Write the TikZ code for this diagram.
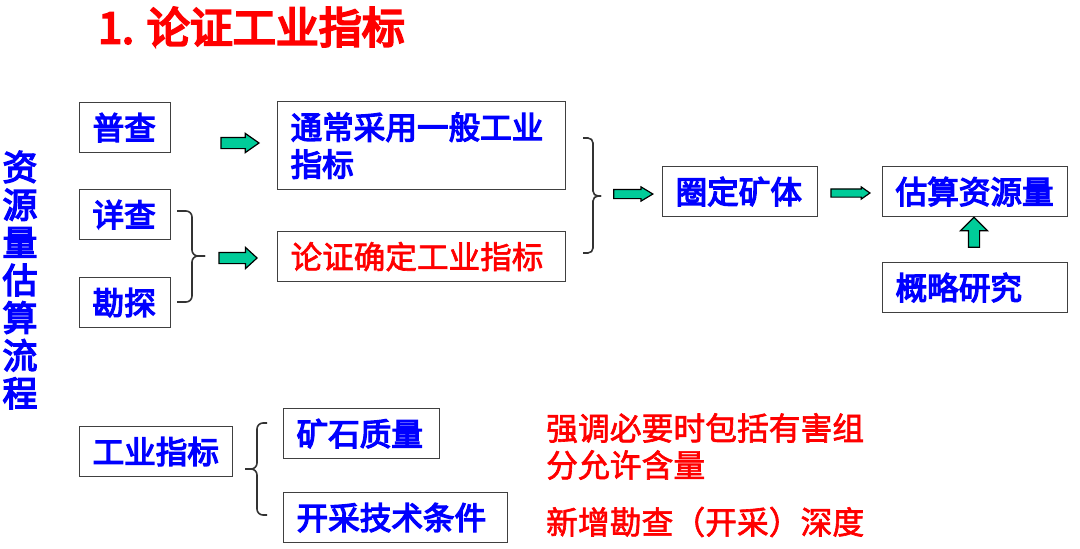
\documentclass[tikz,border=0pt]{standalone}
\usepackage{fontspec}
\setmainfont{Noto Sans CJK SC}
\newfontfamily\bluefont{Noto Sans CJK SC}[FakeBold=4]
\newfontfamily\redfont{Noto Sans CJK SC}[FakeBold=2]
\newfontfamily\titlefont{Noto Sans CJK SC}[FakeBold=5]
\usetikzlibrary{shapes.arrows}

\definecolor{cnblue}{RGB}{0,0,255}
\definecolor{cnred}{RGB}{255,0,0}
\definecolor{arrowgreen}{RGB}{0,204,153}

\begin{document}
\begin{tikzpicture}[x=1pt, y=-1pt,
    stepbox/.style={draw=black!75, line width=1.2pt, inner xsep=13pt, inner ysep=0pt,
        align=left, minimum height=50pt, anchor=north west, text=cnblue,
        font=\fontsize{31.6}{37}\bluefont},
    fatarrow/.style={single arrow, draw=black, line width=1.2pt, fill=arrowgreen,
        inner sep=5pt, single arrow head extend=4pt, single arrow tip angle=75,
        minimum height=38pt},
    bracket/.style={draw=black!80, line width=1.6pt, rounded corners=6pt}]
    \useasboundingbox (0,0) rectangle (1080,549);

    % Title
    \node[anchor=west, inner sep=0pt, text=cnred, font=\fontsize{43}{43}\titlefont]
        (title) at (98,27) {1. 论证工业指标};

    % Vertical caption
    \node[inner sep=0pt, align=center, text=cnblue, font=\fontsize{35}{37.7}\bluefont]
        (flow) at (20,280) {资\\源\\量\\估\\算\\流\\程};

    % Exploration stages
    \node[stepbox, text width=65pt] (pucha) at (79,102) {普查};
    \node[stepbox, text width=65pt] (xiangcha) at (79,189) {详查};
    \node[stepbox, text width=65pt] (kantan) at (79,277) {勘探};

    % Index boxes
    \node[stepbox, text width=262pt, minimum height=88pt] (tongchang) at (277,101)
        {通常采用一般工业\\指标};
    \node[stepbox, text width=262pt, text=cnred, font=\fontsize{31.6}{37}\redfont] (lunzheng) at (277,231)
        {论证确定工业指标};

    % Right column
    \node[stepbox, text width=129pt] (quanding) at (662,166) {圈定矿体};
    \node[stepbox, text width=159pt] (gusuan) at (882,166) {估算资源量};
    \node[stepbox, text width=159pt] (gailue) at (882,262) {概略研究};

    % Lower part
    \node[stepbox, text width=127pt] (gongye) at (79,426) {工业指标};
    \node[stepbox, text width=130pt] (kuangshi) at (283,408) {矿石质量};
    \node[stepbox, text width=198pt] (kaicai) at (283,492) {开采技术条件};

    % Red notes
    \node[anchor=west, inner sep=0pt, align=left, text=cnred, font=\fontsize{31.8}{37}\redfont]
        (youhai) at (546,446.5) {强调必要时包括有害组\\分允许含量};
    \node[anchor=west, inner sep=0pt, text=cnred, font=\fontsize{31.8}{37}\redfont]
        (shendu) at (546,522) {新增勘查（开采）深度};

    % Block arrows
    \node[fatarrow, single arrow tip angle=70] (a1) at (236,143) {};
    \node[fatarrow, single arrow head extend=5pt, single arrow tip angle=85] (a2) at (235,258) {};
    \node[fatarrow, inner sep=4pt, single arrow head extend=2.5pt, single arrow tip angle=62,
        minimum height=39pt] (a3) at (629.5,194) {};
    \node[fatarrow, inner sep=3.5pt, single arrow head extend=2pt, single arrow tip angle=70,
        minimum height=39pt] (a4) at (847.5,193) {};
    \node[fatarrow, shape border rotate=90, single arrow head extend=8pt, single arrow tip angle=90,
        minimum height=30pt] (a5) at (974,235) {};

    % Braces
    \draw[bracket] (177,211) -- (192,211) -- (192,256) -- (205,256);
    \draw[bracket] (177,302) -- (192,302) -- (192,256) -- (205,256);
    \draw[bracket, rounded corners=5pt] (583,138) -- (593,138) -- (593,196) -- (601,196);
    \draw[bracket, rounded corners=5pt] (583,253) -- (593,253) -- (593,196) -- (601,196);
    \draw[bracket] (267,423) -- (257,423) -- (257,469) -- (245,469);
    \draw[bracket] (267,515) -- (257,515) -- (257,469) -- (245,469);
\end{tikzpicture}
\end{document}
